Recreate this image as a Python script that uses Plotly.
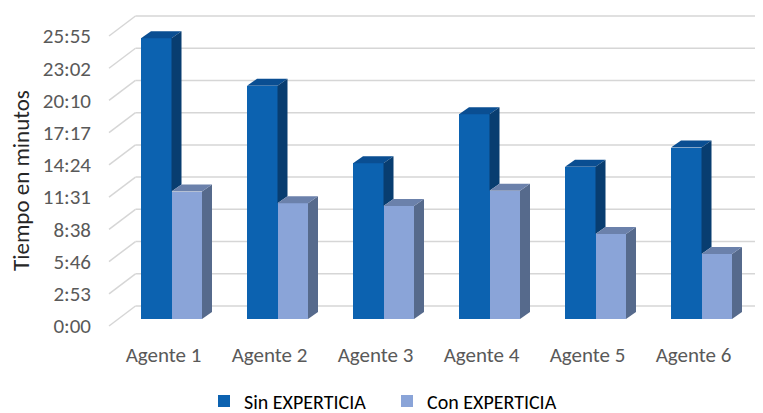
import plotly.graph_objects as go

# ---------------- data ----------------
categories = ["Agente 1", "Agente 2", "Agente 3", "Agente 4", "Agente 5", "Agente 6"]
sin_experticia = [25.10, 20.84, 13.93, 18.30, 13.62, 15.32]   # minutes
con_experticia = [11.39, 10.35, 10.10, 11.47, 7.60, 5.81]     # minutes
tick_minutes = [0, 2.88, 5.76, 8.64, 11.52, 14.40, 17.28, 20.16, 23.04, 25.92]
tick_labels = ["0:00", "2:53", "5:46", "8:38", "11:31", "14:24", "17:17", "20:10", "23:02", "25:55"]

# ---------------- geometry ----------------
# The page body has an 8px default margin, so the figure is sized to fit the
# window and all reference pixel positions are shifted by OFF.
OFF = 8
WIN_W, WIN_H = 763, 413
W, H = WIN_W - OFF, WIN_H - OFF

# plot area in window pixels
P_LEFT, P_RIGHT, P_TOP, P_BOTTOM = 95, 763, 10, 340
ML, MR, MT, MB = P_LEFT - OFF, WIN_W - P_RIGHT, P_TOP - OFF, WIN_H - P_BOTTOM
PLOT_W, PLOT_H = P_RIGHT - P_LEFT, P_BOTTOM - P_TOP

PX_X = 106.0          # px per category
X0_PX = 171.5         # window px of category 0 pair centre
KY = 32.22 / 2.88     # px per minute
Y0_PX = 319.0         # window px of value 0 at bar plane

def xd(px):
    return (px - X0_PX) / PX_X

def yd(px):
    return (Y0_PX - px) / KY

x_range = [xd(P_LEFT), xd(P_RIGHT)]
y_range = [yd(P_BOTTOM), yd(P_TOP)]

BW = 30.5 / PX_X      # bar width
DX = 10 / PX_X        # depth offset x
DY = 7 / KY           # depth offset y
BACK = 13 / KY        # back wall offset (up)
FRONT = -7 / KY       # left wall front edge offset (down)
WALL_FRONT_X = xd(109)
WALL_BACK_X = xd(135.5)

C_DARK = ["#0C62B0", "#0A4E92", "#083D70"]   # front, top, side
C_LIGHT = ["#8AA4D8", "#6B81AB", "#566A8C"]
GRID = "#D6D6D6"
FONT = "Carlito, Calibri, Lato, 'Liberation Sans', sans-serif"

fig = go.Figure()

xs = list(range(len(categories)))
fig.add_trace(go.Bar(x=xs, y=sin_experticia, width=BW, offset=-BW, name="Sin EXPERTICIA",
                     marker=dict(color=C_DARK[0], line=dict(width=0))))
fig.add_trace(go.Bar(x=xs, y=con_experticia, width=BW, offset=0, name="Con EXPERTICIA",
                     marker=dict(color=C_LIGHT[0], line=dict(width=0))))

def poly(xp, yp, color):
    fig.add_trace(go.Scatter(x=xp + [xp[0]], y=yp + [yp[0]], fill="toself", fillcolor=color,
                             mode="lines", line=dict(width=0, color=color),
                             showlegend=False, hoverinfo="skip"))

for i, (vs, vc) in enumerate(zip(sin_experticia, con_experticia)):
    # dark bar: top + visible part of side (above the light bar)
    l, r = i - BW, i
    poly([l, l + DX, r + DX, r], [vs, vs + DY, vs + DY, vs], C_DARK[1])
    poly([r, r + DX, r + DX, r], [vc, vc + DY, vs + DY, vs], C_DARK[2])
    # light bar: side + top
    l, r = i, i + BW
    poly([r, r + DX, r + DX, r], [0, DY, vc + DY, vc], C_LIGHT[2])
    poly([l, l + DX, r + DX, r], [vc, vc + DY, vc + DY, vc], C_LIGHT[1])

shapes = []
for t in tick_minutes:
    shapes.append(dict(type="line", xref="x", yref="y", layer="below",
                       x0=WALL_BACK_X, x1=x_range[1], y0=t + BACK, y1=t + BACK,
                       line=dict(color=GRID, width=1.5)))
    shapes.append(dict(type="line", xref="x", yref="y", layer="below",
                       x0=WALL_FRONT_X, x1=WALL_BACK_X, y0=t + FRONT, y1=t + BACK,
                       line=dict(color=GRID, width=1.5)))

fig.update_layout(
    width=W, height=H,
    margin=dict(l=ML, r=MR, t=MT, b=MB, autoexpand=False),
    plot_bgcolor="white", paper_bgcolor="white",
    shapes=shapes,
    showlegend=True,
    legend=dict(orientation="h", x=(212 - 8 - P_LEFT) / PLOT_W, xanchor="left",
                y=-(401 - P_BOTTOM) / PLOT_H, yanchor="middle",
                font=dict(family=FONT, size=20, color="#000000"),
                entrywidth=138, traceorder="normal"),
    xaxis=dict(range=x_range, showgrid=False, zeroline=False, showline=False,
               tickvals=[i - 0.075 for i in xs], ticktext=categories,
               tickfont=dict(family=FONT, size=21, color="#595959"),
               ticks="", ticklabelstandoff=0),
    yaxis=dict(range=y_range, showgrid=False, zeroline=False, showline=False,
               tickvals=[t + FRONT for t in tick_minutes], ticktext=tick_labels,
               tickfont=dict(family=FONT, size=21, color="#595959"),
               ticks="", ticklabelstandoff=3),
    annotations=[dict(text="Tiempo en minutos", textangle=-90, showarrow=False,
                      xref="paper", yref="paper",
                      x=(21 - P_LEFT) / PLOT_W, y=(P_BOTTOM - 181) / PLOT_H,
                      xanchor="center", yanchor="middle",
                      font=dict(family=FONT, size=23, color="#262626"))],
    bargap=0,
)

fig.write_html("out.html")
